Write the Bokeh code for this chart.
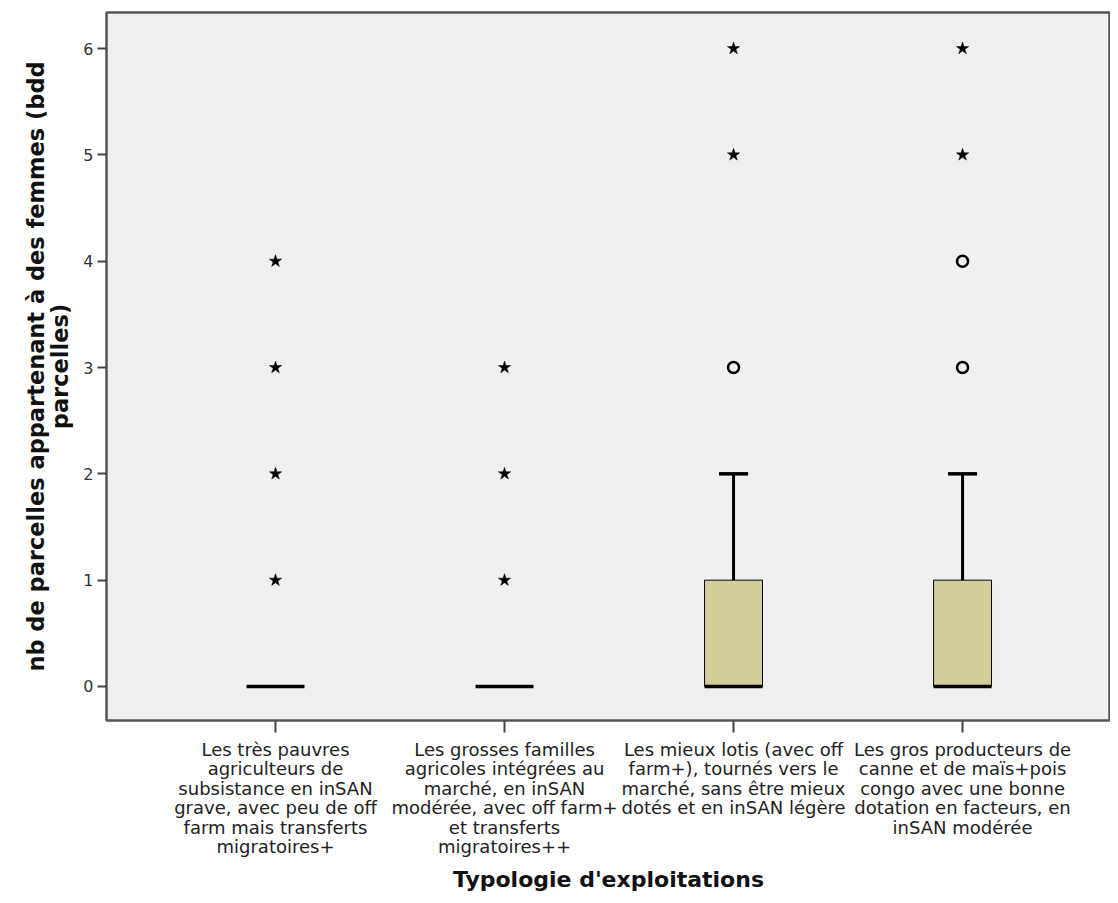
from bokeh.plotting import figure
from bokeh.models import FixedTicker, Range1d
from bokeh.embed import file_html
from bokeh.resources import INLINE

# ---- data ----
categories = [
    "Les très pauvres\nagriculteurs de\nsubsistance en inSAN\ngrave, avec peu de off\nfarm mais transferts\nmigratoires+",
    "Les grosses familles\nagricoles intégrées au\nmarché, en inSAN\nmodérée, avec off farm+\net transferts\nmigratoires++",
    "Les mieux lotis (avec off\nfarm+), tournés vers le\nmarché, sans être mieux\ndotés et en inSAN légère",
    "Les gros producteurs de\ncanne et de maïs+pois\ncongo avec une bonne\ndotation en facteurs, en\ninSAN modérée",
]
q1 = [0, 0, 0, 0]
median = [0, 0, 0, 0]
q3 = [0, 0, 1, 1]
whisker_low = [0, 0, 0, 0]
whisker_high = [0, 0, 2, 2]
# outliers (circles) and extremes (stars): (category index, value)
outlier_cat = [3, 4, 4]
outlier_val = [3, 3, 4]
extreme_cat = [1, 1, 1, 1, 2, 2, 2, 3, 3, 4, 4]
extreme_val = [1, 2, 3, 4, 1, 2, 3, 5, 6, 5, 6]
y_ticks = [0, 1, 2, 3, 4, 5, 6]
y_title = "nb de parcelles appartenant à des femmes (bdd\nparcelles)"
x_title = "Typologie d'exploitations"

# ---- figure ----
xs = [i + 1 for i in range(len(categories))]
x0, x1 = 0.262, 4.646
y0, y1 = -0.320, 6.339
p = figure(width=1110, height=895, output_backend="svg", toolbar_location=None,
           x_range=Range1d(x0, x1), y_range=Range1d(y0, y1),
           min_border_left=106, min_border_top=12, min_border_right=0, min_border_bottom=175)
p.border_fill_color = "white"
p.background_fill_color = "#F0F0F0"
p.outline_line_color = "#555555"
p.outline_line_width = 2.5
p.xgrid.visible = False
p.ygrid.visible = False

font = "DejaVu Sans"
# y axis
p.yaxis.ticker = FixedTicker(ticks=y_ticks)
p.yaxis.minor_tick_line_color = None
p.yaxis.axis_line_color = None
p.yaxis.major_tick_line_color = "#444444"
p.yaxis.major_tick_line_width = 2
p.yaxis.major_tick_out = 9
p.yaxis.major_tick_in = 0
p.yaxis.major_label_text_font = font
p.yaxis.major_label_text_font_size = "16px"
p.yaxis.major_label_text_color = "#333333"
p.yaxis.major_label_standoff = 4
p.yaxis.axis_label = y_title
p.yaxis.axis_label_text_font = font
p.yaxis.axis_label_text_font_style = "bold"
p.yaxis.axis_label_text_font_size = "22.5px"
p.yaxis.axis_label_text_line_height = 0.92
p.yaxis.axis_label_text_color = "#111111"
p.yaxis.axis_label_standoff = 7

# x axis
p.xaxis.ticker = FixedTicker(ticks=xs)
p.xaxis.major_label_overrides = {x: c for x, c in zip(xs, categories)}
p.xaxis.minor_tick_line_color = None
p.xaxis.axis_line_color = None
p.xaxis.major_tick_line_color = "#444444"
p.xaxis.major_tick_line_width = 2
p.xaxis.major_tick_out = 12
p.xaxis.major_tick_in = 0
p.xaxis.major_label_text_font = font
p.xaxis.major_label_text_font_size = "18px"
p.xaxis.major_label_text_line_height = 0.93
p.xaxis.major_label_text_color = "#222222"
p.xaxis.major_label_standoff = 6
p.xaxis.axis_label = x_title
p.xaxis.axis_label_text_font = font
p.xaxis.axis_label_text_font_style = "bold"
p.xaxis.axis_label_text_font_size = "22px"
p.xaxis.axis_label_text_color = "#111111"
p.xaxis.axis_label_standoff = 7

box_w = 0.253
cap_w = 0.127
# whiskers (only where upper whisker exceeds q3)
wx = [x for x, h, t in zip(xs, whisker_high, q3) if h > t]
w_top = [h for h, t in zip(whisker_high, q3) if h > t]
w_bot = [t for h, t in zip(whisker_high, q3) if h > t]
p.segment(x0=wx, y0=w_bot, x1=wx, y1=w_top, line_color="black", line_width=3)
p.segment(x0=[x - cap_w / 2 for x in wx], y0=w_top, x1=[x + cap_w / 2 for x in wx], y1=w_top,
          line_color="black", line_width=3.5)
# boxes
bx = [x for x, a, b in zip(xs, q1, q3) if b > a]
bb = [a for a, b in zip(q1, q3) if b > a]
bt = [b for a, b in zip(q1, q3) if b > a]
p.vbar(x=bx, bottom=bb, top=bt, width=box_w, fill_color="#D3CE98", line_color="black", line_width=1)
# medians
p.segment(x0=[x - box_w / 2 for x in xs], y0=median, x1=[x + box_w / 2 for x in xs], y1=median,
          line_color="black", line_width=3.5)
# outliers
p.scatter(x=outlier_cat, y=outlier_val, marker="circle", size=11, fill_color=None,
          line_color="black", line_width=2.5)
p.scatter(x=extreme_cat, y=extreme_val, marker="star", size=13, fill_color="black",
          line_color="black", line_width=0.5)

open("out.html", "w").write(file_html(p, INLINE))
